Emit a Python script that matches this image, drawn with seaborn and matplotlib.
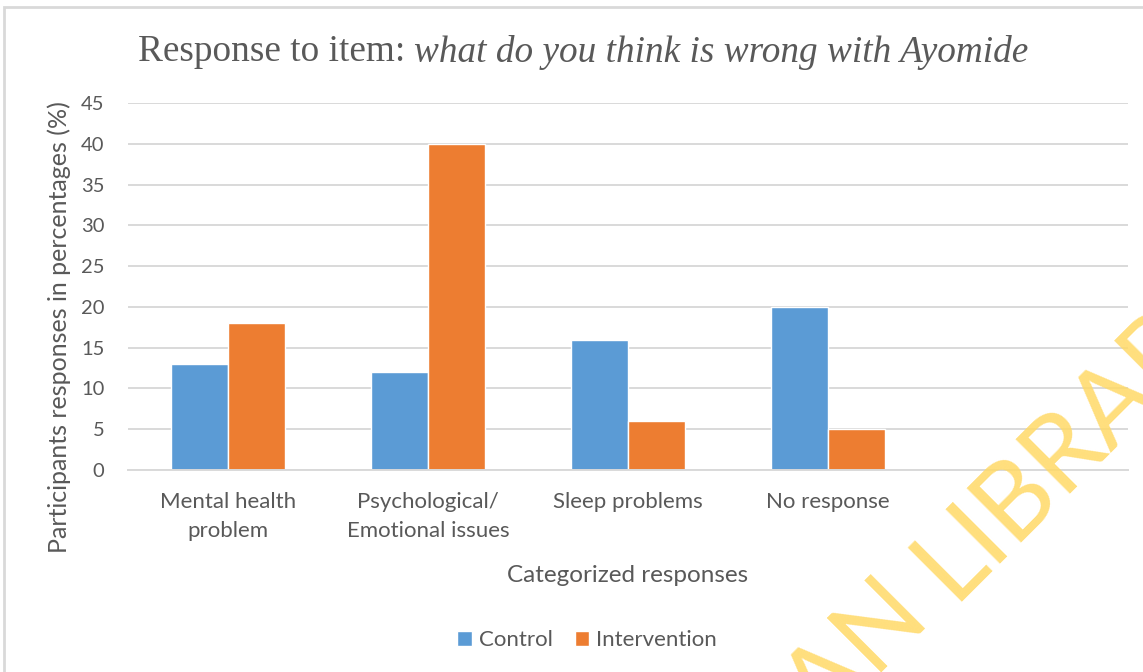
import matplotlib
matplotlib.use("Agg")
import matplotlib.pyplot as plt
from matplotlib.patches import Rectangle
import pandas as pd
import seaborn as sns

# chart data
categories = ["Mental health\nproblem", "Psychological/\nEmotional issues",
              "Sleep problems", "No response"]
groups = ["Control", "Intervention"]
control = [13, 12, 16, 20]
intervention = [18, 40, 6, 5]
y_ticks = [0, 5, 10, 15, 20, 25, 30, 35, 40, 45]

df = pd.DataFrame({
    "category": categories * 2,
    "group": ["Control"] * len(control) + ["Intervention"] * len(intervention),
    "value": control + intervention,
})

sns.set_theme(style="white")
plt.rcParams["font.family"] = ["Lato", "DejaVu Sans"]

TXT = "#595959"
GRID = "#D9D9D9"
W, H = 1143, 672

fig = plt.figure(figsize=(W / 100, H / 100), dpi=100)
ax = fig.add_axes([128 / W, 1 - 470 / H, 1000 / W, 367 / H])

sns.barplot(data=df, x="category", y="value", hue="group", order=categories,
            hue_order=groups, palette=["#5B9BD5", "#ED7D31"], width=0.57,
            saturation=1, errorbar=None, ax=ax)

ax.set_xlim(-0.5, 4.5)
ax.set_ylim(0, 45)
ax.set_yticks(y_ticks)
ax.yaxis.grid(True, color=GRID, lw=1.4)
ax.set_axisbelow(True)
for s in ["top", "right", "left"]:
    ax.spines[s].set_visible(False)
ax.spines["bottom"].set_color(GRID)
ax.spines["bottom"].set_linewidth(1.4)
ax.tick_params(axis="both", length=0, colors=TXT)
ax.tick_params(axis="y", pad=17, labelsize=14.5)
ax.tick_params(axis="x", pad=16, labelsize=16)
for lbl in ax.get_xticklabels():
    lbl.set_linespacing(1.55)
ax.set_xlabel("Categorized responses", fontsize=17.5, color=TXT, labelpad=17)
ax.set_ylabel("Participants responses in percentages (%)", fontsize=18,
              color=TXT)
ax.yaxis.set_label_coords(-0.057, (470 - 327) / 367)

handles, labels = ax.get_legend_handles_labels()
ax.get_legend().remove()
fig.legend(handles, labels, loc="center", bbox_to_anchor=(587 / W, 1 - 640 / H),
           ncol=2, frameon=False, fontsize=16, labelcolor=TXT,
           handlelength=0.65, handleheight=0.65, handletextpad=0.3,
           columnspacing=1.0)

# title: plain part + italic part, centred together
fig.canvas.draw()
r = fig.canvas.get_renderer()
ty = 1 - 52 / H
t1 = fig.text(0, ty, "Response to item: ", fontsize=26.8, color=TXT,
              family=["Liberation Serif"], va="center")
t2 = fig.text(0, ty, "what do you think is wrong with Ayomide", fontsize=26.8,
              color=TXT, family=["Liberation Serif"], style="italic", va="center")
w1 = t1.get_window_extent(r).width / W
w2 = t2.get_window_extent(r).width / W
x0 = 583 / W - (w1 + w2) / 2
t1.set_x(x0)
t2.set_x(x0 + w1)

# chart border
fig.add_artist(Rectangle((4 / W, -0.2), 1.2, 1.2 - 7 / H,
                         transform=fig.transFigure, fill=False,
                         edgecolor=GRID, lw=2))

# library watermark
wm = dict(fontsize=77, color="#FFD966", alpha=0.85, rotation=45,
          rotation_mode="anchor", va="baseline", zorder=10,
          family=["Lato", "DejaVu Sans"])
px, py = 952 / W, 1 - 602 / H
fig.text(px, py, "LIBRARY", ha="left", **wm)
fig.text(px, py, "IBADAN ", ha="right", **wm)

fig.savefig("out.png", dpi=100)
